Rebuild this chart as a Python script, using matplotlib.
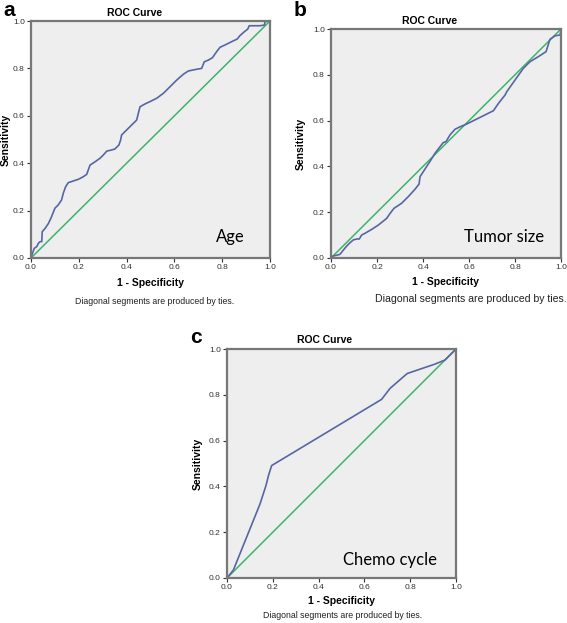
import matplotlib.pyplot as plt

# ROC points (1 - specificity, sensitivity)
age_fpr = [0, 0.006, 0.014, 0.024, 0.031, 0.038, 0.045, 0.047, 0.059, 0.073, 0.086, 0.100,
           0.114, 0.128, 0.135, 0.145, 0.156, 0.177, 0.198, 0.219, 0.233, 0.247, 0.268,
           0.289, 0.303, 0.317, 0.338, 0.351, 0.368, 0.375, 0.379, 0.393, 0.407, 0.421,
           0.442, 0.456, 0.477, 0.498, 0.526, 0.554, 0.582, 0.610, 0.637, 0.658, 0.686,
           0.714, 0.725, 0.742, 0.759, 0.777, 0.791, 0.812, 0.840, 0.863, 0.874, 0.893,
           0.907, 0.913, 0.958, 0.977, 0.979, 0.996, 1.0]
age_tpr = [0, 0.020, 0.041, 0.048, 0.062, 0.069, 0.069, 0.111, 0.125, 0.146, 0.174, 0.210,
           0.224, 0.245, 0.273, 0.301, 0.318, 0.325, 0.332, 0.343, 0.353, 0.392, 0.406,
           0.421, 0.435, 0.451, 0.456, 0.460, 0.477, 0.498, 0.519, 0.533, 0.547, 0.561,
           0.582, 0.638, 0.650, 0.660, 0.674, 0.695, 0.723, 0.751, 0.775, 0.789, 0.795,
           0.800, 0.828, 0.835, 0.845, 0.871, 0.889, 0.899, 0.913, 0.924, 0.938, 0.955,
           0.966, 0.980, 0.980, 0.983, 0.997, 1.0, 1.0]

tumor_fpr = [0, 0.010, 0.025, 0.039, 0.054, 0.068, 0.083, 0.097, 0.112, 0.123, 0.133, 0.148,
             0.177, 0.206, 0.242, 0.257, 0.274, 0.307, 0.336, 0.365, 0.383, 0.387, 0.409,
             0.430, 0.452, 0.474, 0.488, 0.500, 0.517, 0.539, 0.561, 0.590, 0.626, 0.670,
             0.706, 0.728, 0.757, 0.764, 0.800, 0.836, 0.865, 0.901, 0.935, 0.952, 0.974,
             0.996, 1.0, 1.0]
tumor_tpr = [0, 0.009, 0.012, 0.016, 0.035, 0.052, 0.067, 0.079, 0.083, 0.083, 0.100, 0.108,
             0.125, 0.144, 0.173, 0.195, 0.217, 0.239, 0.268, 0.300, 0.323, 0.355, 0.389,
             0.421, 0.457, 0.486, 0.504, 0.508, 0.537, 0.562, 0.573, 0.585, 0.603, 0.625,
             0.643, 0.675, 0.712, 0.726, 0.777, 0.828, 0.857, 0.879, 0.901, 0.955, 0.970,
             0.974, 0.996, 1.0]

chemo_fpr = [0, 0.028, 0.086, 0.144, 0.170, 0.181, 0.195, 0.675, 0.712, 0.787, 0.908, 0.952, 1.0]
chemo_tpr = [0, 0.035, 0.179, 0.323, 0.403, 0.447, 0.491, 0.780, 0.828, 0.893, 0.934, 0.952, 1.0]

ticks = [0.0, 0.2, 0.4, 0.6, 0.8, 1.0]
tick_labels = ['0.0', '0.2', '0.4', '0.6', '0.8', '1.0']

W, H = 567, 623
fig = plt.figure(figsize=(W / 100, H / 100), dpi=100)
plt.rcParams['font.family'] = ['Liberation Sans', 'DejaVu Sans']

BLUE = '#5766a3'
GREEN = '#3fb36b'


def px(x, y):
    return x / W, 1 - y / H


def roc_panel(box, fpr, tpr, letter, letter_xy, title_xy, xlab_y, ylab_x, note_xy,
              note_size, label, label_xy):
    left, top, right, bottom = box
    ax = fig.add_axes([left / W, 1 - bottom / H, (right - left) / W, (bottom - top) / H])
    ax.set_facecolor('#eeeeee')
    ax.plot([0, 1], [0, 1], color=GREEN, lw=1.1)
    ax.plot(fpr, tpr, color=BLUE, lw=1.2)
    ax.set_xlim(0, 1)
    ax.set_ylim(0, 1)
    ax.set_xticks(ticks)
    ax.set_yticks(ticks)
    ax.set_xticklabels(tick_labels)
    ax.set_yticklabels(tick_labels)
    ax.tick_params(direction='out', length=3, width=0.8, pad=1.5,
                   labelsize=6, colors='#333333')
    for s in ax.spines.values():
        s.set_color('#777777')
        s.set_linewidth(1.6)
    ax.text(label_xy[0], label_xy[1], label, transform=ax.transAxes,
            ha='right', va='baseline', fontsize=12, family='Lato')

    cx = (left + right) / 2
    cy = (top + bottom) / 2
    fig.text(*px(*letter_xy), letter, fontsize=15, fontweight='bold', ha='left', va='top')
    fig.text(*px(*title_xy), 'ROC Curve', fontsize=7.5, fontweight='bold', ha='center', va='center')
    fig.text(*px(cx, xlab_y), '1 - Specificity', fontsize=7.5, fontweight='bold',
             ha='center', va='center')
    fig.text(*px(ylab_x, cy), 'Sensitivity', fontsize=7.5, fontweight='bold',
             rotation=90, ha='center', va='center')
    fig.text(*px(*note_xy), 'Diagonal segments are produced by ties.', fontsize=note_size,
             ha='center', va='center', color='#222222')
    return ax


roc_panel((31, 21, 270, 258), age_fpr, age_tpr, 'a', (3, 1), (135, 13), 283, 6,
          (155, 301), 6.3, 'Age', (0.895, 0.068))
roc_panel((331, 29, 561, 258), tumor_fpr, tumor_tpr, 'b', (294, 1), (430, 21), 282, 301,
          (471, 299), 7.6, 'Tumor size', (0.926, 0.07))
roc_panel((227, 349, 456, 578), chemo_fpr, chemo_tpr, 'c', (190, 328), (325, 340), 601, 198,
          (343, 616), 6.3, 'Chemo cycle', (0.917, 0.057))

fig.savefig('out.png', dpi=100, facecolor='white')
